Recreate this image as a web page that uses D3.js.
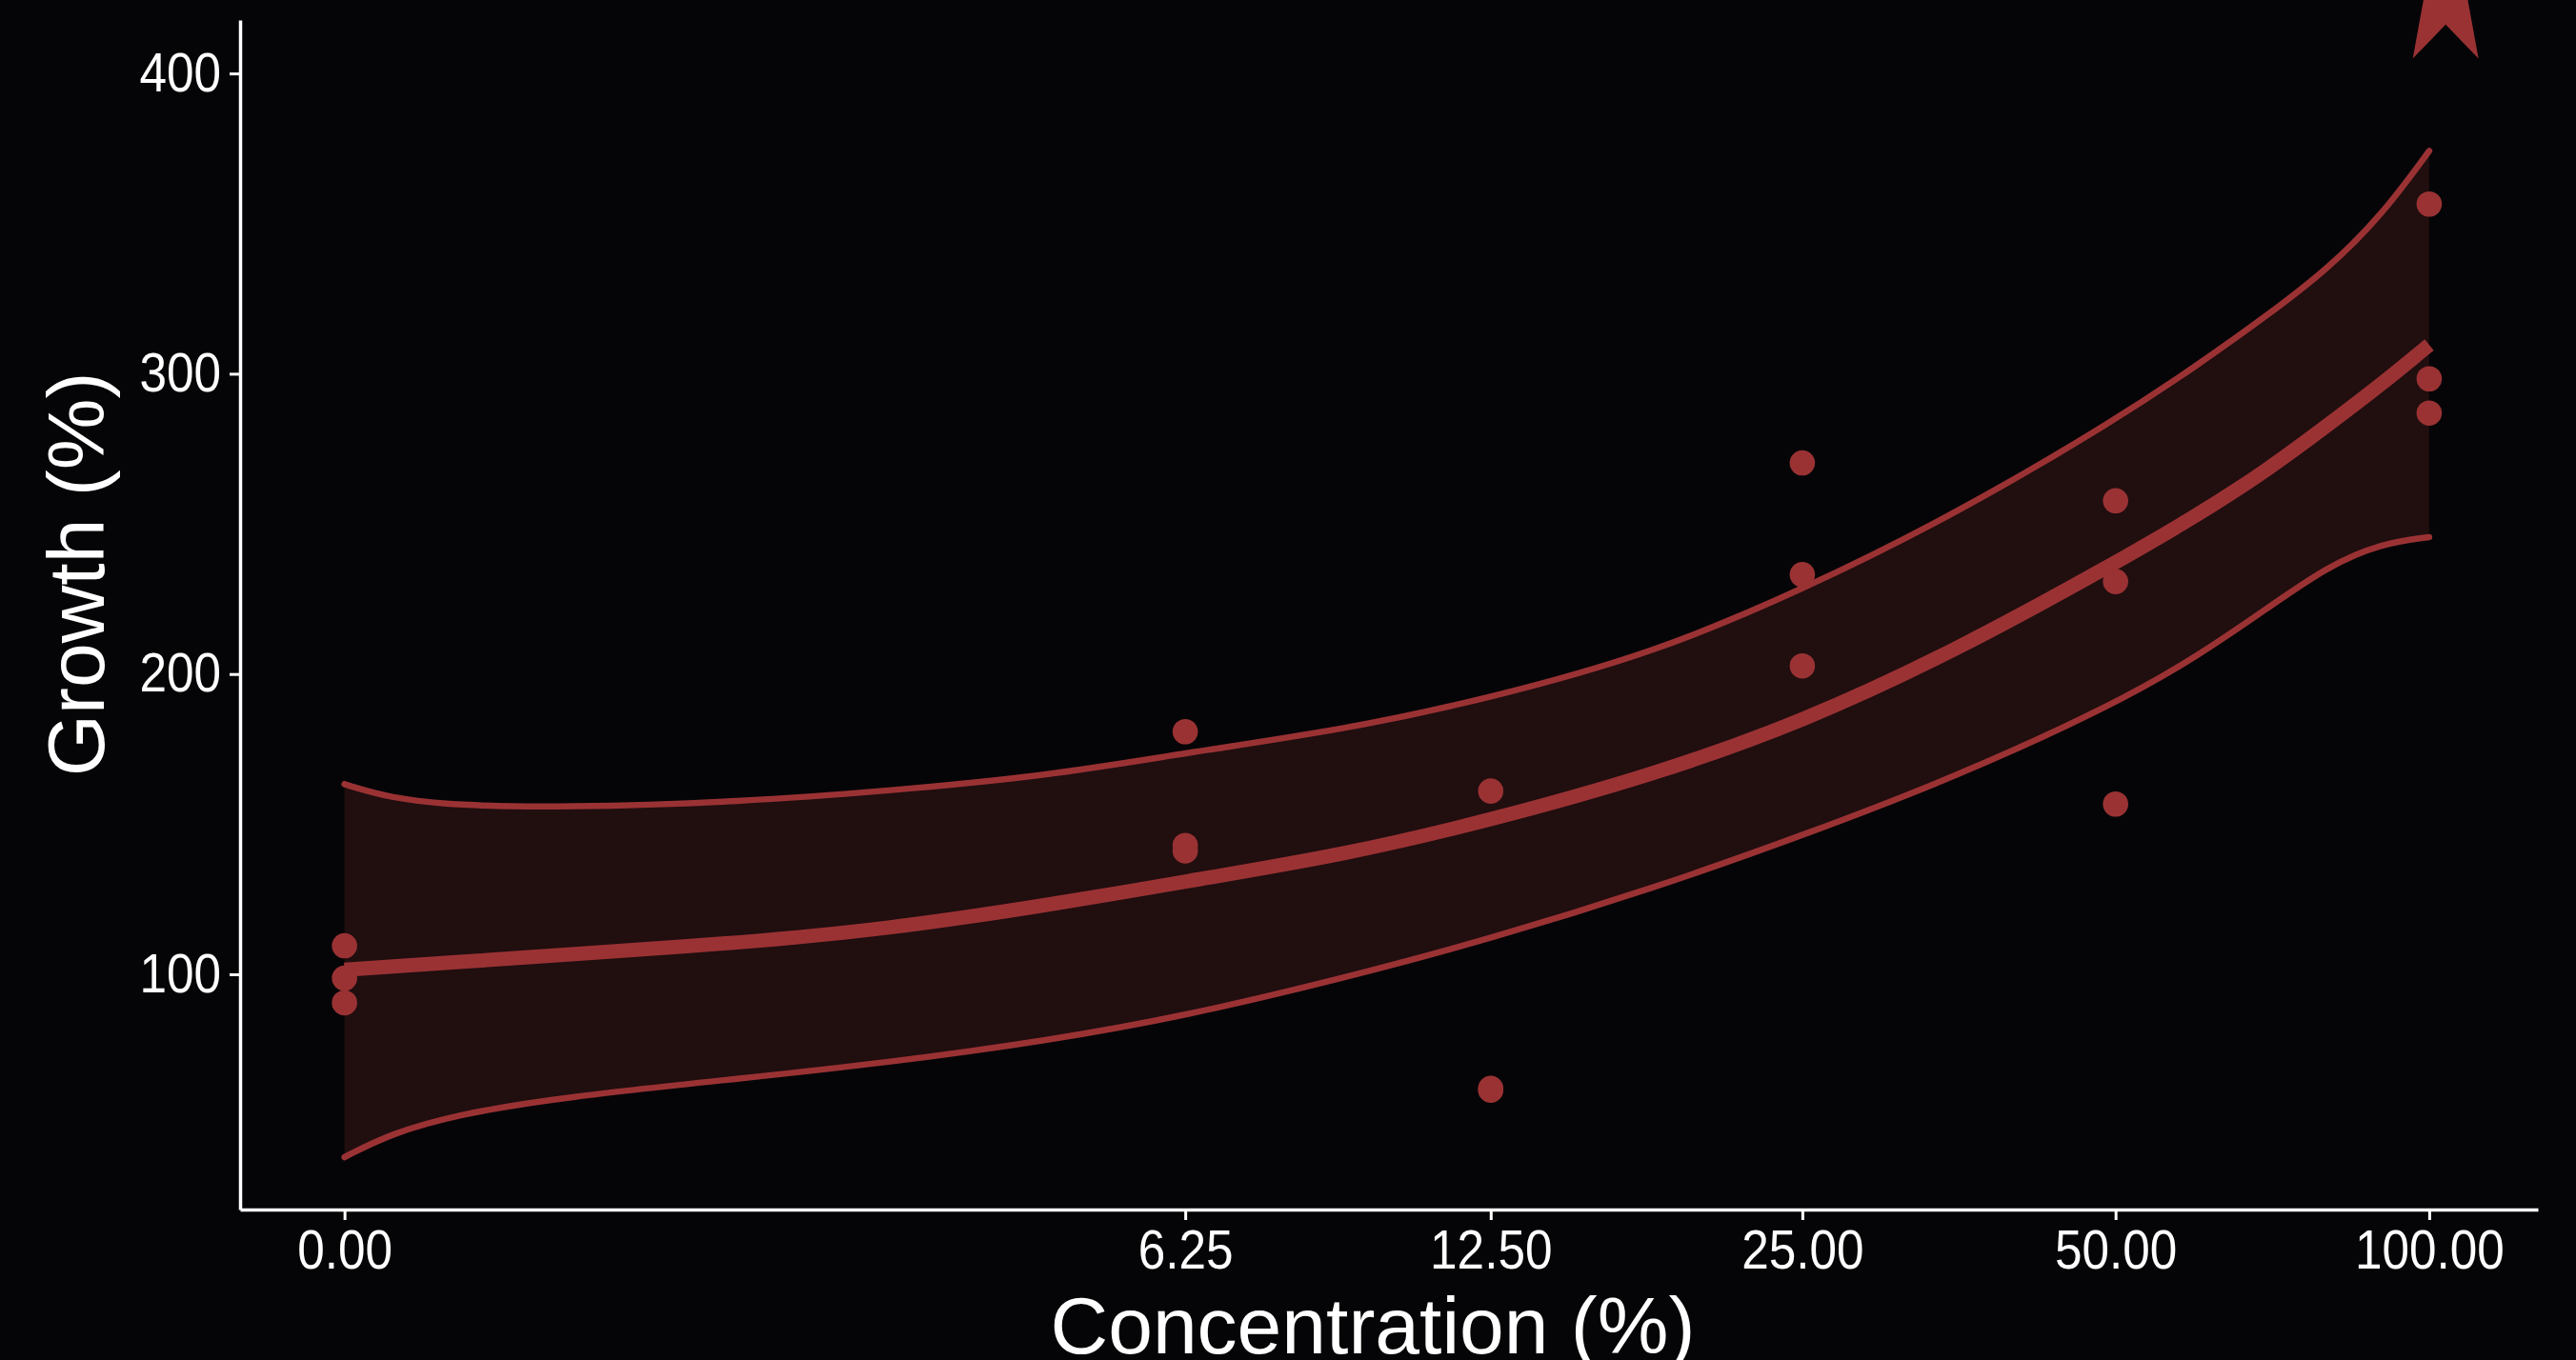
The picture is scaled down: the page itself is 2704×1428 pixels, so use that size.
<!DOCTYPE html>
<html>
<head>
<meta charset="utf-8">
<script src="https://cdn.jsdelivr.net/npm/d3@7"></script>
<style>
  html, body { margin: 0; padding: 0; background: #050507; }
  svg { display: block; }
  text { font-family: "Liberation Sans", Arial, sans-serif; }
</style>
</head>
<body>
<svg id="chart" width="2704" height="1428"></svg>
<script>
// concentrations on the x axis and their labels
const concentrations = [0, 6.25, 12.5, 25, 50, 100];
const concLabels = ["0.00", "6.25", "12.50", "25.00", "50.00", "100.00"];
const growthTicks = [100, 200, 300, 400];

// measured replicates
const pointConc = [0, 0, 0, 6.25, 6.25, 6.25, 12.5, 12.5, 12.5, 25, 25, 25, 50, 50, 50, 100, 100, 100];
const pointGrowth = [109.5, 98.7, 90.5, 180.8, 142.9, 141.1, 161.0, 62.0, 61.4, 270.3, 233.1, 202.7, 257.7, 230.8, 156.7, 356.5, 298.3, 286.9];

// smoother + confidence band
const fitConc  = [0, 0.2, 0.5, 1, 2, 3, 4.5, 6.25, 9, 12.5, 18, 25, 35, 50, 60, 70, 80, 90, 100];
const fitMid   = [101.5, 102.6, 104, 106.5, 110.5, 115, 122.9, 130.9, 139.8, 151.3, 166.5, 184, 207.5, 237, 253, 268, 283, 296.5, 309.6];
const fitLower = [39.1, 46.8, 53.3, 59.1, 65.4, 70.5, 77.8, 86.1, 98.8, 111.8, 128.7, 146.2, 165.5, 190, 206, 222, 236, 243.5, 245.6];
const fitUpper = [163.3, 158.7, 156.2, 155.5, 157.5, 161, 166, 173.7, 181.5, 192, 207, 228, 253, 284.6, 303, 319.5, 335, 352.6, 374.2];

// star annotation above the top dose
const starConc = 103.7;
const starGrowth = 428.3;

const red = "#9a3234";
const bandFill = "#210e0f";

const svg = d3.select("svg#chart");

// pseudo-log x (asinh(x/2)), like scales::pseudo_log_trans
const tf = v => Math.asinh(v / 2);
const x = d3.scaleLinear().domain([-0.2307, 4.8454]).range([252, 2664]);
const y = d3.scaleLinear().domain([21.66, 417.8]).range([1270, 21]);
const px = v => x(tf(v));

const band = fitConc.map((c, i) => ({c: c, lo: fitLower[i], hi: fitUpper[i], mid: fitMid[i]}));

// ribbon
svg.append("path")
    .datum(band)
    .attr("fill", bandFill)
    .attr("d", d3.area()
        .curve(d3.curveBasis)
        .x(d => px(d.c))
        .y0(d => y(d.lo))
        .y1(d => y(d.hi)));

// band edges
["lo", "hi"].forEach(k => {
    svg.append("path")
        .datum(band)
        .attr("fill", "none")
        .attr("stroke", red)
        .attr("stroke-width", 6.5)
        .attr("stroke-linecap", "round")
        .attr("d", d3.line()
            .curve(d3.curveBasis)
            .x(d => px(d.c))
            .y(d => y(d[k])));
});

// fitted line
svg.append("path")
    .datum(band)
    .attr("fill", "none")
    .attr("stroke", red)
    .attr("stroke-width", 15)
    .attr("d", d3.line()
        .curve(d3.curveBasis)
        .x(d => px(d.c))
        .y(d => y(d.mid)));

// points
svg.append("g")
    .selectAll("circle")
    .data(pointConc.map((c, i) => ({c: c, g: pointGrowth[i]})))
    .join("circle")
        .attr("cx", d => px(d.c))
        .attr("cy", d => y(d.g))
        .attr("r", 13.3)
        .attr("fill", red);

// star (legs only visible, top runs off the page)
const R = 58.7, r = 24.4, stretch = 1.55;
const sx = px(starConc), sy = y(starGrowth);
const starPts = d3.range(10).map(k => {
    const a = k * Math.PI / 5;
    const rad = k % 2 === 0 ? R : r;
    return [sx + rad * Math.sin(a), sy - rad * Math.cos(a) * stretch];
});
svg.append("path")
    .attr("d", d3.line()(starPts) + "Z")
    .attr("fill", red);

// axes
const yAxis = svg.append("g")
    .attr("transform", "translate(252,0)")
    .attr("color", "#fff")
    .call(d3.axisLeft(y).tickValues(growthTicks).tickSize(11).tickSizeOuter(0));
yAxis.select(".domain").attr("stroke-width", 3.5);
yAxis.selectAll(".tick line").attr("stroke-width", 3);
yAxis.selectAll(".tick text")
    .attr("font-size", 57)
    .attr("font-family", "Liberation Sans, Arial, sans-serif")
    .attr("x", -22.2)
    .attr("transform", "scale(0.9,1)");

const xAxis = svg.append("g")
    .attr("transform", "translate(0,1270)")
    .attr("color", "#fff")
    .call(d3.axisBottom(x)
        .tickValues(concentrations.map(tf))
        .tickFormat((d, i) => concLabels[i])
        .tickSize(11)
        .tickSizeOuter(0));
xAxis.select(".domain").attr("stroke-width", 3.5);
xAxis.selectAll(".tick line").attr("stroke-width", 3);
xAxis.selectAll(".tick text")
    .attr("font-size", 57)
    .attr("font-family", "Liberation Sans, Arial, sans-serif")
    .attr("y", 62)
    .attr("dy", 0)
    .attr("transform", "scale(0.9,1)");

// axis titles
svg.append("text")
    .attr("x", 1441)
    .attr("y", 1421)
    .attr("text-anchor", "middle")
    .attr("font-size", 84)
    .attr("fill", "#fff")
    .text("Concentration (%)");

svg.append("text")
    .attr("transform", "translate(109,603) rotate(-90)")
    .attr("text-anchor", "middle")
    .attr("font-size", 84)
    .attr("fill", "#fff")
    .text("Growth (%)");
</script>
</body>
</html>
